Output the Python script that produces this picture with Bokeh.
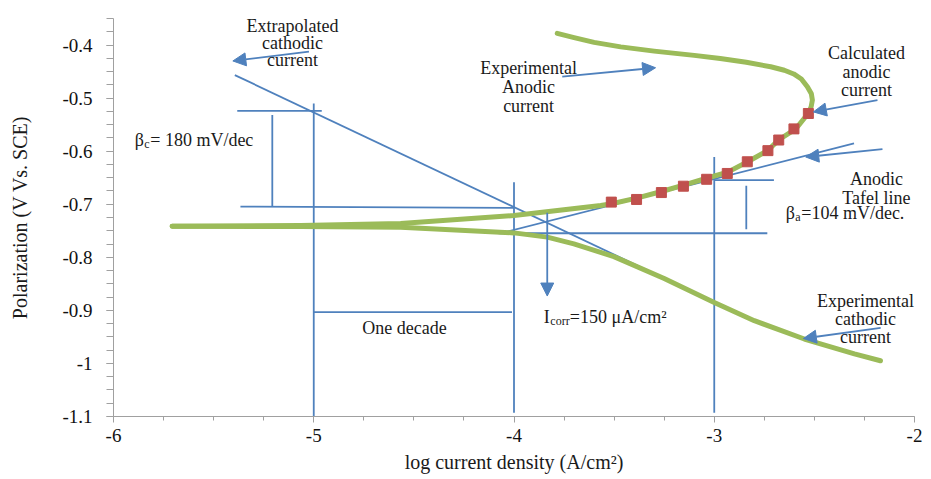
from bokeh.plotting import figure
from bokeh.models import Range1d, FixedTicker, Label, Arrow, NormalHead, ColumnDataSource
from bokeh.embed import file_html
from bokeh.resources import INLINE

# ---------------- data ----------------
x_ticks = [-6, -5, -4, -3, -2]
x_tick_labels = ["-6", "-5", "-4", "-3", "-2"]
x_minor = [-6 + 0.25 * i for i in range(17)]
y_ticks = [-1.1, -1.0, -0.9, -0.8, -0.7, -0.6, -0.5, -0.4]
y_tick_labels = ["-1.1", "-1", "-0.9", "-0.8", "-0.7", "-0.6", "-0.5", "-0.4"]
y_minor = [round(-1.1 + 0.025 * i, 3) for i in range(31)]

# experimental anodic branch (log i, E)
anodic_x = [-5.707, -5.066, -4.566, -4.0, -3.567, -3.512, -3.388, -3.263, -3.153, -3.038,
            -2.933, -2.833, -2.733, -2.679, -2.593, -2.529, -2.516, -2.510, -2.515, -2.535,
            -2.565, -2.603, -2.65, -2.718, -2.84, -2.970, -3.10, -3.30, -3.467, -3.60,
            -3.70, -3.784]
anodic_y = [-0.7415, -0.740, -0.7365, -0.7213, -0.7025, -0.699, -0.6885, -0.676, -0.664, -0.651,
            -0.6395, -0.620, -0.599, -0.579, -0.558, -0.528, -0.516, -0.5038, -0.492, -0.4787,
            -0.464, -0.4545, -0.4475, -0.441, -0.4325, -0.4255, -0.4195, -0.4115, -0.4035, -0.395,
            -0.386, -0.378]

# experimental cathodic branch
cathodic_x = [-5.707, -5.066, -4.566, -4.0, -3.834, -3.701, -3.501, -3.25, -3.0, -2.80,
              -2.55, -2.30, -2.17]
cathodic_y = [-0.7415, -0.742, -0.7434, -0.754, -0.762, -0.7747, -0.7987, -0.840, -0.885, -0.9194,
              -0.954, -0.982, -0.995]

# calculated anodic current
calc_x = [-3.514, -3.388, -3.264, -3.154, -3.038, -2.935, -2.835, -2.732, -2.678, -2.602, -2.530]
calc_y = [-0.696, -0.691, -0.678, -0.666, -0.653, -0.642, -0.620, -0.599, -0.579, -0.558, -0.529]

# Tafel construction lines (start -> end)
guide_x0 = [-5.394, -4.067, -5.0, -4.0, -3.0, -5.382, -5.207, -5.366, -5.0, -4.077, -3.0, -2.84]
guide_y0 = [-0.4566, -0.7547, -0.510, -0.6585, -0.611, -0.524, -0.532, -0.7045, -0.9032, -0.7547, -0.6547, -0.665]
guide_x1 = [-2.803, -2.302, -5.0, -4.0, -3.0, -4.96, -5.207, -4.0, -4.01, -2.735, -2.702, -2.84]
guide_y1 = [-0.9194, -0.5855, -1.1, -1.093, -1.093, -0.524, -0.7045, -0.7068, -0.9032, -0.7547, -0.6547, -0.747]

# annotation arrows (tail -> tip)
arrow_x0 = [-5.024, -3.759, -2.185, -2.160, -2.169, -3.834]
arrow_y0 = [-0.4126, -0.4597, -0.5038, -0.596, -0.933, -0.7162]
arrow_x1 = [-5.404, -3.293, -2.505, -2.543, -2.555, -3.834]
arrow_y1 = [-0.430, -0.4428, -0.526, -0.611, -0.953, -0.873]

# ---------------- styling ----------------
GREEN = "#9BBB59"
BLUE = "#4F81BD"
RED = "#C0504D"
FONT = "Liberation Serif"
TXT = "#1a1a1a"

p = figure(width=931, height=479, output_backend="svg", toolbar_location=None,
           x_range=Range1d(-6, -2), y_range=Range1d(-1.1, -0.35),
           min_border_left=113, min_border_right=17, min_border_top=18, min_border_bottom=63,
           x_axis_label="log current density (A/cm\u00b2)",
           y_axis_label="Polarization (V Vs. SCE)")
p.outline_line_color = None
p.xgrid.visible = False
p.ygrid.visible = False
p.background_fill_color = "white"
p.border_fill_color = "white"

for ax in (p.xaxis[0], p.yaxis[0]):
    ax.axis_line_color = "#A0A0A0"
    ax.major_tick_line_color = "#A0A0A0"
    ax.minor_tick_line_color = "#A0A0A0"
    ax.major_tick_in = 0
    ax.minor_tick_in = 0
    ax.major_label_text_font = FONT
    ax.major_label_text_font_size = "19px"
    ax.major_label_text_color = "#111111"
    ax.axis_label_text_font = FONT
    ax.axis_label_text_font_size = "20px"
    ax.axis_label_text_font_style = "normal"
    ax.axis_label_text_color = TXT

p.xaxis[0].ticker = FixedTicker(ticks=x_ticks, minor_ticks=x_minor)
p.xaxis[0].major_label_overrides = {float(k): v for k, v in zip(x_ticks, x_tick_labels)}
p.xaxis[0].major_tick_out = 6
p.xaxis[0].minor_tick_out = 4
p.xaxis[0].major_label_standoff = 6
p.xaxis[0].axis_label_standoff = 6

p.yaxis[0].ticker = FixedTicker(ticks=y_ticks, minor_ticks=y_minor)
p.yaxis[0].major_label_overrides = {k: v for k, v in zip(y_ticks, y_tick_labels)}
p.yaxis[0].major_tick_out = 7
p.yaxis[0].minor_tick_out = 7
p.yaxis[0].major_label_standoff = 14
p.yaxis[0].axis_label_standoff = 28

# guide lines
gsrc = ColumnDataSource(dict(x0=guide_x0, y0=guide_y0, x1=guide_x1, y1=guide_y1))
p.segment(x0="x0", y0="y0", x1="x1", y1="y1", source=gsrc, line_color=BLUE, line_width=1.8)

# experimental curves
p.line(cathodic_x, cathodic_y, line_color=GREEN, line_width=5, line_cap="round", line_join="round")
p.line(anodic_x, anodic_y, line_color=GREEN, line_width=5, line_cap="round", line_join="round")

# calculated anodic current points
p.scatter(calc_x, calc_y, marker="square", size=10, fill_color=RED, line_color=RED)

# arrows
for xa, ya, xb, yb in zip(arrow_x0, arrow_y0, arrow_x1, arrow_y1):
    p.add_layout(Arrow(x_start=xa, y_start=ya, x_end=xb, y_end=yb, line_color=BLUE, line_width=1.8,
                       end=NormalHead(size=13, fill_color=BLUE, line_color=BLUE)))

DX = 4.0 / 801.0   # data units per pixel (x)
DY = 0.75 / 398.0  # data units per pixel (y)


def lab(x, y, text, size="18px", align="center", baseline="middle"):
    p.add_layout(Label(x=x, y=y, text=text, text_font=FONT, text_font_size=size,
                       text_align=align, text_baseline=baseline, text_color=TXT))


# multi-line annotations
for t, yy in zip(["Extrapolated", "cathodic", "current"], [-0.365, -0.3955, -0.4283]):
    lab(-5.106, yy, t)
for t, yy in zip(["Experimental", "Anodic", "current"], [-0.444, -0.4798, -0.5151]):
    lab(-3.927, yy, t)
for t, yy in zip(["Calculated", "anodic", "current"], [-0.4157, -0.4504, -0.4849]):
    lab(-2.240, yy, t)
for t, yy in zip(["Anodic", "Tafel line"], [-0.6523, -0.6875]):
    lab(-2.19, yy, t)
for t, yy in zip(["Experimental", "cathodic", "current"], [-0.8815, -0.9165, -0.951]):
    lab(-2.245, yy, t)
lab(-4.547, -0.9327, "One decade")

# beta_c label
bx, by = -5.894, -0.5792
lab(bx, by, "\u03b2", align="left")
lab(bx + 9.5 * DX, by - 4 * DY, "c", size="12px", align="left")
lab(bx + 15.5 * DX, by, "= 180 mV/dec", align="left")

# beta_a label
ax_, ay_ = -2.643, -0.717
lab(ax_, ay_, "\u03b2", align="left")
lab(ax_ + 9.5 * DX, ay_ - 4 * DY, "a", size="12px", align="left")
lab(ax_ + 15.5 * DX, ay_, "=104 mV/dec.", align="left")

# I_corr label
ix, iy = -3.851, -0.9128
lab(ix, iy, "I", align="left")
lab(ix + 6.5 * DX, iy - 4 * DY, "corr", size="12px", align="left")
lab(ix + 26 * DX, iy, "=150 \u03bcA/cm\u00b2", align="left")

open("out.html", "w").write(file_html(p, INLINE))
